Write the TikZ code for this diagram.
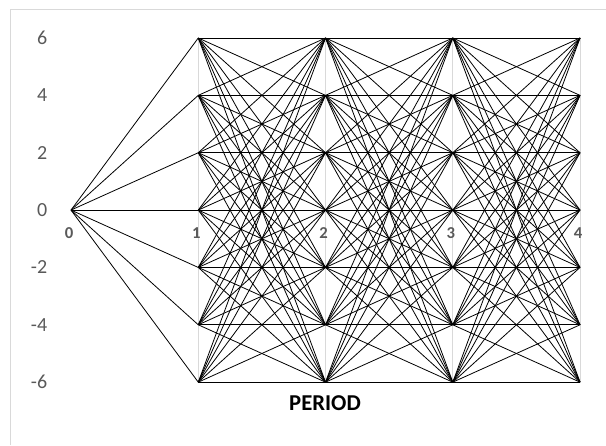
\documentclass[tikz,border=0pt]{standalone}
\usepackage{fontspec}
\setmainfont{Carlito}
\definecolor{axisgray}{RGB}{89,89,89}
\definecolor{gridgray}{RGB}{217,217,217}
\tikzset{
  edge/.style={black,line width=0.6pt},
  grid line/.style={gridgray,line width=0.8pt},
  ylab/.style={anchor=east,inner sep=0pt,axisgray,font=\fontsize{15}{18}\selectfont},
  xlab/.style={inner sep=0pt,axisgray,font=\bfseries\fontsize{12.5}{15}\selectfont}
}
\begin{document}
\begin{tikzpicture}[x=95.4pt,y=21.5pt]
\useasboundingbox (-0.558,-8.197) rectangle (4.204,7.325);
% chart frame
\draw[grid line] (-0.479,-8.197) -- (-0.479,7.01) -- (4.204,7.01);
\foreach \k in {1,...,4}
  \draw[grid line] (\k,-6) -- (\k,6);
% states
\coordinate (s0) at (0,0);
\foreach \k in {1,...,4}
  \foreach \j in {-6,-4,...,6}
    \coordinate (s\k\j) at (\k,\j);
% transitions
\foreach \j in {-6,-4,...,6}
  \draw[edge] (s0) -- (s1\j);
\foreach \k/\n in {1/2,2/3,3/4}
  \foreach \i in {-6,-4,...,6}
    \foreach \j in {-6,-4,...,6}
      \draw[edge] (s\k\i) -- (s\n\j);
% axes
\foreach \j in {-6,-4,...,6}
  \node[ylab] (y\j) at (-0.185,\j) {\j};
\foreach \k in {0,...,4}
  \node[xlab] (x\k) at (\k-0.015,-0.8) {\k};
\node[font=\bfseries\fontsize{17}{20}\selectfont] (period) at (1.996,-6.73) {PERIOD};
\end{tikzpicture}
\end{document}
